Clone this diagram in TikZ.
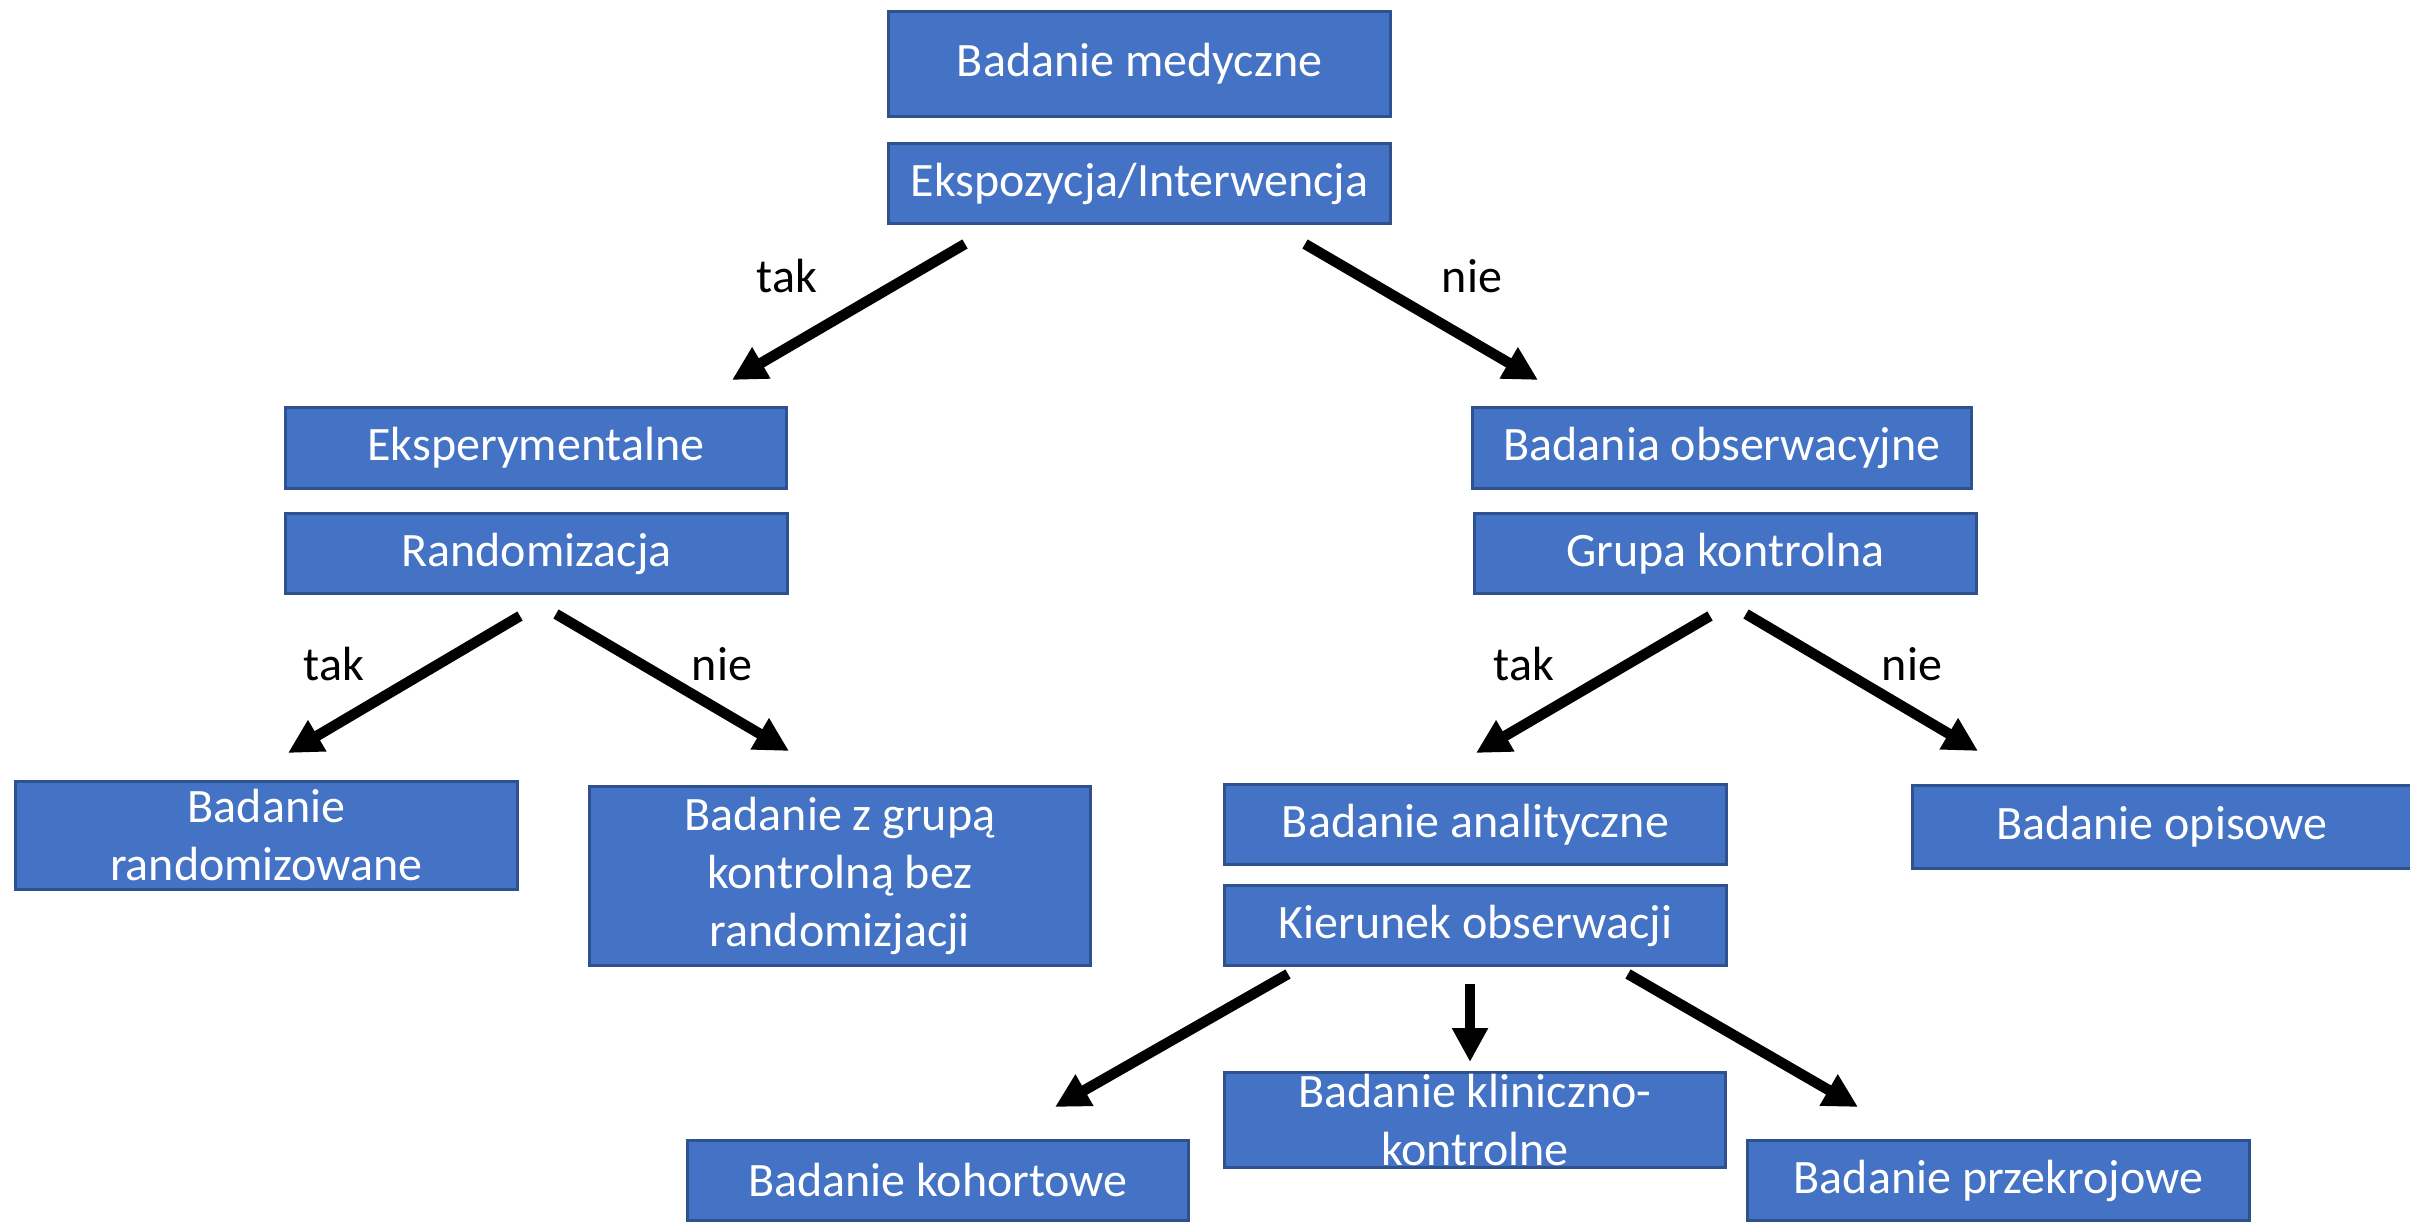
\documentclass[tikz,border=0pt]{standalone}
\usepackage{fontspec}
\setmainfont{Carlito}
\usetikzlibrary{arrows.meta}
\definecolor{boxblue}{HTML}{4472C4}
\definecolor{boxedge}{HTML}{2F528F}
\tikzset{
  box/.style={draw=boxedge, fill=boxblue, line width=1.2pt, inner sep=0pt,
    text=white, align=center, font=\fontsize{19.2pt}{23.2pt}\selectfont},
  lbl/.style={inner sep=0pt, text=black, font=\fontsize{19.2pt}{23.2pt}\selectfont},
  flow/.style={line width=4.2pt, -{Triangle[length=13.6pt,width=13.6pt]}},
}
\begin{document}
\begin{tikzpicture}[x=0.4pt,y=-0.4pt]
\useasboundingbox (0,0) rectangle (2410,1223);

% top level
\node[box, minimum width=201pt, minimum height=42pt]   (med)  at (1139.5,64)  {Badanie medyczne};
\node[box, minimum width=201pt, minimum height=32pt] (eksp) at (1139.5,183.5) {Ekspozycja/Interwencja};

% second level
\node[box, minimum width=200.5pt, minimum height=32.5pt]   (eksper) at (536,448) {Eksperymentalne};
\node[box, minimum width=200.5pt, minimum height=32pt] (rand) at (536.5,554) {Randomizacja};
\node[box, minimum width=199.5pt, minimum height=32.5pt] (obs)  at (1722,448)  {Badania obserwacyjne};
\node[box, minimum width=200.5pt, minimum height=32pt] (grupa) at (1725.5,554) {Grupa kontrolna};

% third level
\node[box, minimum width=200.5pt, minimum height=43pt] (randz) at (266.5,835.5) {Badanie\\randomizowane};
\node[box, minimum width=200.5pt, minimum height=71.5pt]   (bezr)  at (840,876) {Badanie z grupą\\kontrolną bez\\randomizjacji};
\node[box, minimum width=200.5pt, minimum height=32pt] (anal)  at (1475.5,824.5) {Badanie analityczne};
\node[box, minimum width=200.5pt, minimum height=32pt] (kier)  at (1475.5,925.5) {Kierunek obserwacji};
\node[box, minimum width=200pt, minimum height=33pt] (opis)  at (2162,827) {Badanie opisowe};

% bottom level
\node[box, minimum width=200.5pt, minimum height=32pt]   (kohort) at (938,1180.5) {Badanie kohortowe};
\node[box, minimum width=200.5pt, minimum height=38pt] (klin)   at (1475,1120) {Badanie kliniczno-\\kontrolne};
\node[box, minimum width=200.5pt, minimum height=32pt]   (przek)  at (1998.5,1180.5) {Badanie przekrojowe};

% arrow end points
\coordinate (t1) at (965,244);  \coordinate (h1) at (732,380);
\coordinate (t2) at (1305,244); \coordinate (h2) at (1538,380);
\coordinate (t3) at (520,616);  \coordinate (h3) at (288,753);
\coordinate (t4) at (556,614);  \coordinate (h4) at (789,751);
\coordinate (t5) at (1710,616); \coordinate (h5) at (1476,753);
\coordinate (t6) at (1746,614); \coordinate (h6) at (1978,751);
\coordinate (t7) at (1288,974); \coordinate (h7) at (1055,1107);
\coordinate (t8) at (1470,984); \coordinate (h8) at (1470,1062);
\coordinate (t9) at (1628,974); \coordinate (h9) at (1858,1107);

\draw[flow] (t1) -- (h1);
\draw[flow] (t2) -- (h2);
\draw[flow] (t3) -- (h3);
\draw[flow] (t4) -- (h4);
\draw[flow] (t5) -- (h5);
\draw[flow] (t6) -- (h6);
\draw[flow] (t7) -- (h7);
\draw[flow] (t8) -- (h8);
\draw[flow] (t9) -- (h9);

% branch labels
\node[lbl] (l1) at (787,276)  {tak};
\node[lbl] (l2) at (1472,276) {nie};
\node[lbl] (l3) at (334,664)  {tak};
\node[lbl] (l4) at (722,664)  {nie};
\node[lbl] (l5) at (1524,664) {tak};
\node[lbl] (l6) at (1912,664) {nie};
\end{tikzpicture}
\end{document}
